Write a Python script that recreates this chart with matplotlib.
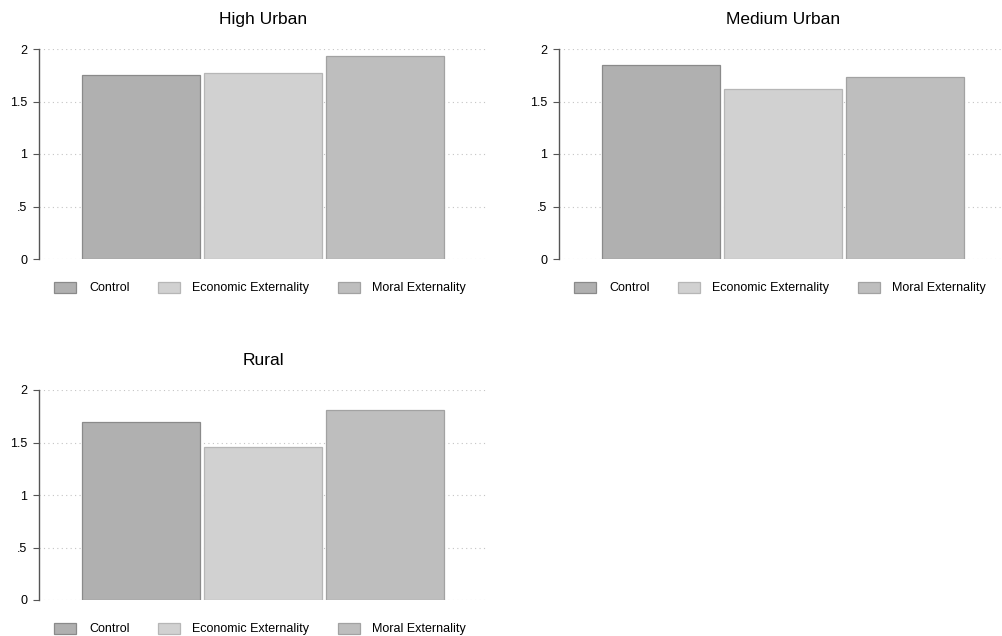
import matplotlib
matplotlib.use("Agg")
import matplotlib.pyplot as plt
from matplotlib.patches import Patch

plt.rcParams['font.family'] = ['Liberation Sans', 'DejaVu Sans']

regions = ["High Urban", "Medium Urban", "Rural"]
treatments = ["Control", "Economic Externality", "Moral Externality"]
control = [1.757, 1.845, 1.694]
economic = [1.770, 1.616, 1.455]
moral = [1.930, 1.733, 1.812]
yticks = [0, 0.5, 1, 1.5, 2]
ytick_labels = ["0", ".5", "1", "1.5", "2"]

fills = ["#b0b0b0", "#d1d1d1", "#bebebe"]
edges = ["#8a8a8a", "#b6b6b6", "#a2a2a2"]

W, H = 1002, 636
fig = plt.figure(figsize=(W / 100, H / 100), dpi=100)

# axes rectangles in pixels: (left, top, right, bottom)
rects = [(39, 49, 487, 259), (559, 49, 1007, 259), (39, 390, 487, 600)]

values = list(zip(control, economic, moral))
for i, region in enumerate(regions):
    l, t, r, b = rects[i]
    ax = fig.add_axes([l / W, 1 - b / H, (r - l) / W, (b - t) / H])
    vals = values[i]
    for j in range(3):
        ax.bar(j, vals[j], width=0.965, color=fills[j], edgecolor=edges[j],
               linewidth=0.9, zorder=3)
    ax.set_xlim(-0.836, 2.836)
    ax.set_ylim(0, 2)
    ax.set_yticks(yticks)
    ax.set_yticklabels(ytick_labels)
    ax.set_xticks([])
    for s in ["top", "right", "bottom"]:
        ax.spines[s].set_visible(False)
    ax.spines["left"].set_color("#555555")
    ax.spines["left"].set_linewidth(1.0)
    ax.tick_params(axis="y", direction="out", length=4, width=0.8,
                   color="#555555", labelsize=9, pad=4.5, labelcolor="#000000")
    ax.yaxis.grid(True, linestyle=(0, (1, 3)), linewidth=0.8, color="#c4c4c4",
                  zorder=0)
    ax.set_axisbelow(True)
    ax.set_title(region, fontsize=12.5, pad=18, color="#000000")
    handles = [Patch(facecolor=fills[j], edgecolor=edges[j], linewidth=0.9)
               for j in range(3)]
    ax.legend(handles, treatments, loc="center left",
              bbox_to_anchor=(15 / 448, -29 / 210), ncol=3, frameon=False,
              fontsize=9, borderpad=0, handlelength=1.76, handleheight=1.0,
              handletextpad=1.04, columnspacing=2.24, borderaxespad=0)

fig.savefig("out.png", dpi=100, facecolor="white")
